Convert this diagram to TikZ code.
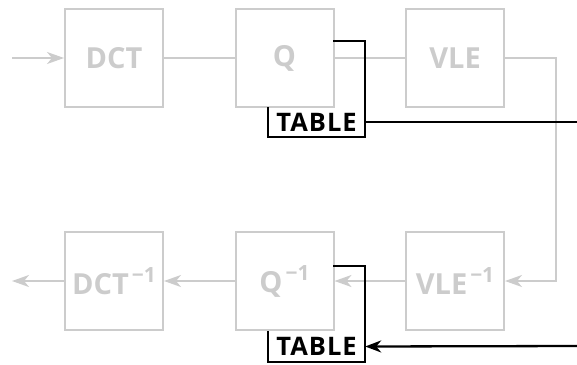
\documentclass[tikz,border=0pt]{standalone}
\usepackage{fontspec}
\setmainfont{Open Sans}
\newfontfamily\tabfont{Open Sans}[LetterSpace=4]
\usetikzlibrary{arrows.meta, positioning, calc}
\definecolor{blkGray}{RGB}{204,204,204}
\newcommand{\minv}{\kern3pt\raisebox{12pt}{\fontsize{21}{21}\selectfont −1}}

\begin{document}
\begin{tikzpicture}[x=1pt, y=-1pt,
  blk/.style={draw=blkGray, line width=2pt, minimum size=98pt, inner sep=0pt,
    text=blkGray, font=\fontsize{29}{31}\selectfont\bfseries},
  tab/.style={minimum width=97pt, minimum height=30pt, inner sep=0pt,
    font=\tabfont\fontsize{25.5}{28}\selectfont\bfseries},
  gline/.style={blkGray, line width=2pt},
  garrow/.style={gline, -{Stealth[length=17pt, width=12pt, inset=5pt]}},
  bline/.style={black, line width=2.3pt},
  barrow/.style={bline, -{Stealth[length=16pt, width=12pt, inset=5pt]}}]
  \useasboundingbox (0,0) rectangle (577,364);

  % ---- forward path ----
  \node[blk] (dct) at (114,58)   {DCT};
  \node[blk] (q)   at (284.5,58) {Q};
  \node[blk] (vle) at (455,58)   {VLE};

  % ---- inverse path ----
  \node[blk] (idct) at (114,281)   {DCT\minv};
  \node[blk] (iq)   at (284.5,281) {Q\minv};
  \node[blk] (ivle) at (455,281)   {VLE\minv};

  % ---- tables ----
  \node[tab] (qtab)  at (316.5,122) {TABLE};
  \node[tab, minimum height=31pt] (iqtab) at (316.5,346.5) {TABLE};

  \coordinate (in)    at (12,58);
  \coordinate (out)   at (12,281);
  \coordinate (turn)  at (556,58);
  \coordinate (qtap)  at (333,41);
  \coordinate (iqtap) at (333,266);
  \coordinate (tout)  at (577,122);
  \coordinate (tin)   at (577,346);

  % ---- gray signal lines ----
  \draw[garrow] (in) -- (dct);
  \draw[gline] (dct) -- (q);
  \draw[gline] (q) -- (vle);
  \draw[garrow] (vle.east) -- (turn) |- (ivle.east);
  \draw[garrow] (ivle) -- (iq);
  \draw[garrow] (iq) -- (idct);
  \draw[garrow] (idct) -- (out);

  % ---- table brackets ----
  \draw[bline] (qtap) -| (qtab.south east) -| (qtab.north west);
  \draw[bline] (qtab.east) -- (tout);
  \draw[bline] (iqtap) -| (iqtab.south east) -| (iqtab.north west);
  \draw[barrow] (tin) -- (iqtab.east);
\end{tikzpicture}
\end{document}
